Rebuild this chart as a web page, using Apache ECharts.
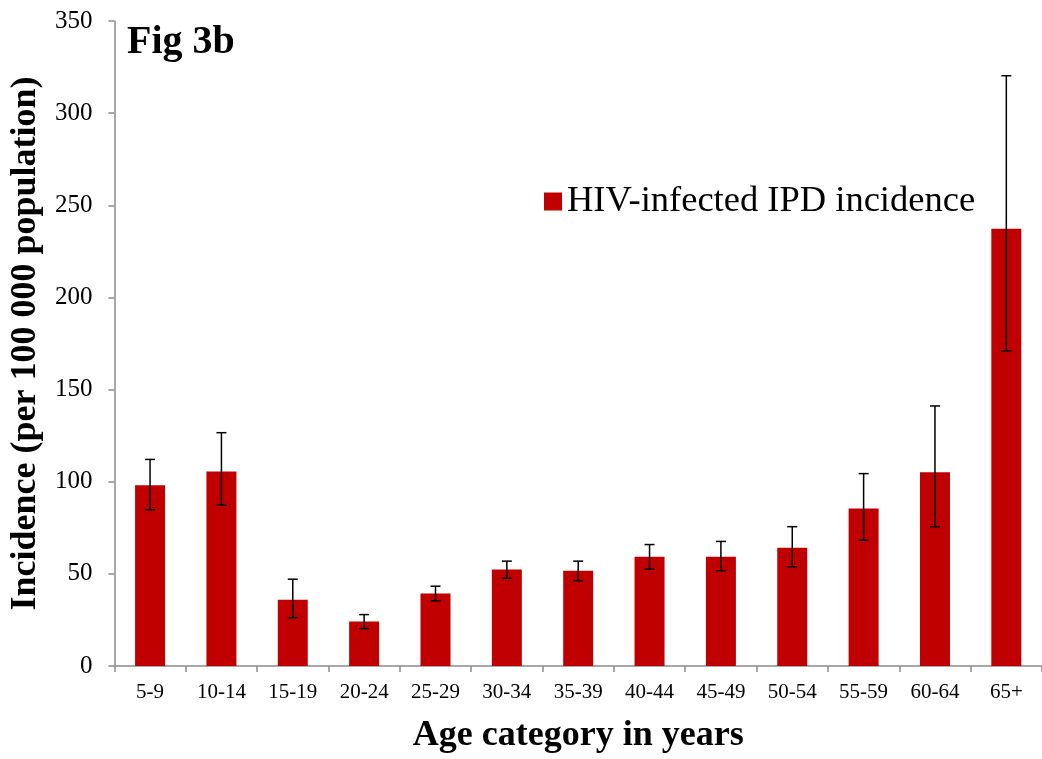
<!DOCTYPE html>
<html>
<head>
<meta charset="utf-8">
<title>Fig 3b</title>
<script src="https://cdn.jsdelivr.net/npm/echarts@6/dist/echarts.min.js"></script>
<style>
  html, body { margin: 0; padding: 0; background: #fff; overflow: hidden; }
  #fig3b { width: 1042px; height: 759px; }
</style>
</head>
<body>
<!-- chart container -->
<div id="fig3b"></div>
<script>
// age groups
const ageGroups = ['5-9', '10-14', '15-19', '20-24', '25-29', '30-34', '35-39', '40-44', '45-49', '50-54', '55-59', '60-64', '65+']
// incidence per 100 000
const incidence = [98.1, 105.6, 35.9, 24.1, 39.3, 52.3, 51.7, 59.3, 59.3, 64.2, 85.5, 105.1, 237.2]
// 95% CI
const ciLow = [84.8, 87.3, 26.2, 20.3, 35.4, 47.6, 46.3, 52.6, 51.7, 53.8, 68.3, 75.6, 171.0]
const ciHigh = [112.1, 126.6, 47.1, 27.9, 43.3, 56.9, 56.9, 65.9, 67.6, 75.6, 104.4, 141.1, 320.3]
// y axis ticks
const yMin = 0
const yMax = 350
const yStep = 50

const fontFamily = "'Liberation Serif', 'Times New Roman', serif"
const axisGrey = '#8c8c8c'

const chart = echarts.init(document.getElementById('fig3b'))

const errorData = ageGroups.map((g, i) => [i, ciLow[i], ciHigh[i]])

const option = {
  animation: false,
  textStyle: { fontFamily: fontFamily },
  title: {
    text: 'Fig 3b',
    left: 122,
    top: 18,
    textStyle: { fontFamily: fontFamily, fontWeight: 'bold', fontSize: 40, color: '#000' }
  },
  legend: {
    data: ['HIV-infected IPD incidence'],
    left: 539,
    top: 178,
    icon: 'rect',
    itemWidth: 18,
    itemHeight: 18,
    itemGap: 8,
    textStyle: { fontFamily: fontFamily, fontSize: 36.5, color: '#000' }
  },
  // the last category runs past the right edge in the original
  grid: {
    left: 114,
    top: 21,
    width: 934,
    height: 650,
    containLabel: false
  },
  xAxis: {
    type: 'category',
    data: ageGroups,
    name: 'Age category in years',
    nameLocation: 'middle',
    nameGap: 52,
    nameTextStyle: { fontFamily: fontFamily, fontWeight: 'bold', fontSize: 36, color: '#000' },
    axisLine: { lineStyle: { color: axisGrey, width: 1.5 } },
    axisTick: { show: true, length: 6, inside: false, lineStyle: { color: axisGrey, width: 1.5 } },
    axisLabel: { fontFamily: fontFamily, fontSize: 21, color: '#000', margin: 16, interval: 0 }
  },
  yAxis: {
    type: 'value',
    min: yMin,
    max: yMax,
    interval: yStep,
    name: 'Incidence (per 100 000 population)',
    nameLocation: 'middle',
    nameGap: 67,
    nameTextStyle: { fontFamily: fontFamily, fontWeight: 'bold', fontSize: 36, color: '#000' },
    axisLine: { show: true, lineStyle: { color: axisGrey, width: 1.5 } },
    axisTick: { show: true, length: 6, lineStyle: { color: axisGrey, width: 1.5 } },
    splitLine: { show: false },
    axisLabel: { fontFamily: fontFamily, fontSize: 25, color: '#000', margin: 22 }
  },
  series: [
    {
      name: 'HIV-infected IPD incidence',
      type: 'bar',
      data: incidence,
      barWidth: 30,
      itemStyle: { color: '#c00000' }
    },
    {
      // error bars
      type: 'custom',
      name: 'CI',
      data: errorData,
      z: 10,
      renderItem: function (params, api) {
        const x = api.value(0)
        const lo = api.coord([x, api.value(1)])
        const hi = api.coord([x, api.value(2)])
        const cap = 5
        const style = { stroke: '#000', lineWidth: 1.5 }
        return {
          type: 'group',
          children: [
            { type: 'line', shape: { x1: lo[0], y1: lo[1], x2: hi[0], y2: hi[1] }, style: style },
            { type: 'line', shape: { x1: hi[0] - cap, y1: hi[1], x2: hi[0] + cap, y2: hi[1] }, style: style },
            { type: 'line', shape: { x1: lo[0] - cap, y1: lo[1], x2: lo[0] + cap, y2: lo[1] }, style: style }
          ]
        }
      }
    }
  ]
}

chart.setOption(option)
</script>
</body>
</html>
